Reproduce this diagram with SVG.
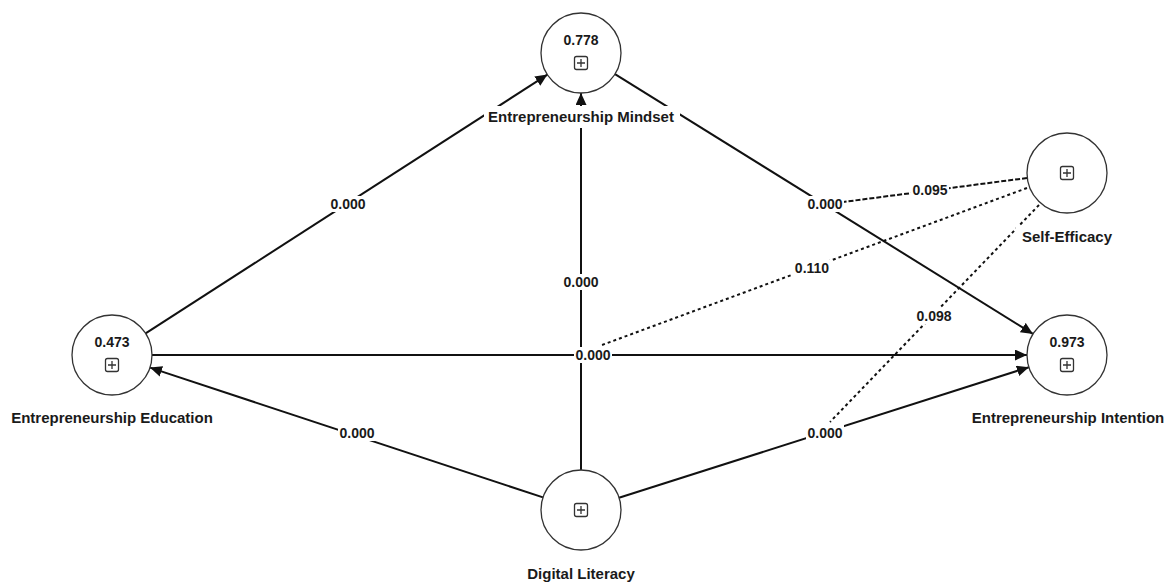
<svg xmlns="http://www.w3.org/2000/svg" width="1172" height="584" viewBox="0 0 1172 584">
<style>
.node circle{fill:#fff;stroke:#333;stroke-width:1.3}
.box{fill:none;stroke:#333;stroke-width:1.3}
.val{font-family:"Liberation Sans",Arial,sans-serif;font-weight:bold;font-size:14px;fill:#1a1a1a;text-anchor:middle}
.name{font-family:"Liberation Sans",Arial,sans-serif;font-weight:bold;font-size:15px;fill:#1a1a1a;text-anchor:middle}
.lab{font-family:"Liberation Sans",Arial,sans-serif;font-weight:bold;font-size:14px;fill:#1a1a1a;text-anchor:middle;dominant-baseline:central}
.bg{fill:#fff}
.solid{stroke:#111;stroke-width:2;fill:none}
.dash{stroke:#111;stroke-width:2;fill:none;stroke-dasharray:5 2}
.dot{stroke:#111;stroke-width:2;fill:none;stroke-dasharray:3 3}
</style>
<defs>
<marker id="arr" markerUnits="userSpaceOnUse" markerWidth="13" markerHeight="12" refX="12" refY="5.5" orient="auto">
<path d="M0,0 L12,5.5 L0,11 z" fill="#111"/>
</marker>
<g id="plus">
<rect class="box" x="-6.5" y="-6.5" width="13" height="13" rx="2"/>
<path d="M-4,0 H4 M0,-4 V4" stroke="#333" stroke-width="1.3"/>
</g>
</defs>
<g id="connectors">
<line class="solid" x1="145.6" y1="333.4" x2="547.4" y2="74.6" marker-end="url(#arr)"/>
<line class="solid" x1="581" y1="470" x2="581" y2="93" marker-end="url(#arr)"/>
<line class="solid" x1="615" y1="74.1" x2="1033" y2="333.9" marker-end="url(#arr)"/>
<line class="solid" x1="152" y1="355" x2="1027" y2="355" marker-end="url(#arr)"/>
<line class="solid" x1="543" y1="497.4" x2="150" y2="367.6" marker-end="url(#arr)"/>
<line class="solid" x1="619" y1="497.8" x2="1028.9" y2="367.2" marker-end="url(#arr)"/>
<line class="dash" x1="1027" y1="178" x2="843" y2="202"/>
<line class="dot" x1="1027" y1="188" x2="602" y2="345"/>
<line class="dot" x1="1039" y1="205" x2="830" y2="422"/>
<g id="labels">
<rect class="bg" x="329" y="196" width="38" height="16"/><text class="lab" x="348" y="204">0.000</text>
<rect class="bg" x="562" y="274" width="38" height="16"/><text class="lab" x="581" y="282">0.000</text>
<rect class="bg" x="806" y="196" width="38" height="16"/><text class="lab" x="825" y="204">0.000</text>
<rect class="bg" x="574" y="347" width="38" height="16"/><text class="lab" x="593" y="355">0.000</text>
<rect class="bg" x="338" y="425" width="38" height="16"/><text class="lab" x="357" y="433">0.000</text>
<rect class="bg" x="806" y="425" width="38" height="16"/><text class="lab" x="825" y="433">0.000</text>
<rect class="bg" x="911" y="182" width="38" height="16"/><text class="lab" x="930" y="190">0.095</text>
<rect class="bg" x="793" y="260" width="38" height="16"/><text class="lab" x="812" y="268">0.110</text>
<rect class="bg" x="915" y="308" width="38" height="16"/><text class="lab" x="934" y="316">0.098</text>
</g>
</g>
<g id="mindset" class="node">
<circle cx="581" cy="53" r="40"/>
<text class="val" x="581" y="45">0.778</text>
<use href="#plus" x="581" y="63"/>
<rect class="bg" x="484" y="106" width="196" height="22"/>
<text class="name" x="581" y="122">Entrepreneurship Mindset</text>
</g>
<g id="education" class="node">
<circle cx="112" cy="355" r="40"/>
<text class="val" x="112" y="347">0.473</text>
<use href="#plus" x="112" y="365"/>
<rect class="bg" x="6" y="407" width="212" height="22"/>
<text class="name" x="112" y="423">Entrepreneurship Education</text>
</g>
<g id="intention" class="node">
<circle cx="1067" cy="355" r="40"/>
<text class="val" x="1067" y="347">0.973</text>
<use href="#plus" x="1067" y="365"/>
<rect class="bg" x="968" y="407" width="200" height="22"/>
<text class="name" x="1068" y="423">Entrepreneurship Intention</text>
</g>
<g id="digital" class="node">
<circle cx="581" cy="510" r="40"/>
<use href="#plus" x="581" y="510"/>
<text class="name" x="581" y="579">Digital Literacy</text>
</g>
<g id="selfefficacy" class="node">
<circle cx="1067" cy="173" r="40"/>
<use href="#plus" x="1067" y="173"/>
<rect class="bg" x="1016" y="226" width="102" height="22"/>
<text class="name" x="1067" y="242">Self-Efficacy</text>
</g>
</svg>
